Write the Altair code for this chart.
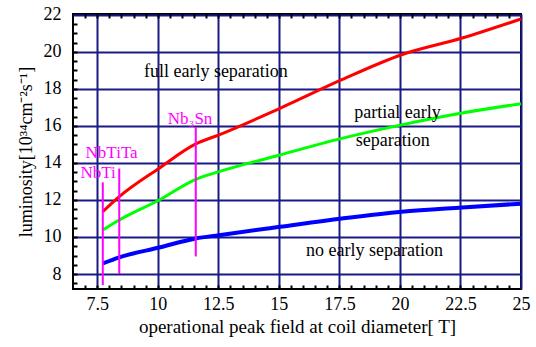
import altair as alt
import pandas as pd

# ---- data ----
field = [7.73, 8.41, 10.06, 11.57, 12.53, 15.04, 17.6, 20.07, 22.57, 25.0]
full_sep = [11.37, 12.18, 13.72, 15.03, 15.52, 16.95, 18.5, 19.85, 20.75, 21.78]
partial_sep = [10.38, 10.92, 12.0, 13.12, 13.53, 14.43, 15.33, 16.06, 16.7, 17.2]
no_sep = [8.57, 8.9, 9.43, 9.92, 10.1, 10.55, 11.0, 11.37, 11.6, 11.8]

material = ["NbTi", "NbTiTa", "Nb₃Sn"]
material_field = [7.73, 8.41, 11.57]
material_low = [7.4, 8.0, 8.95]
material_high = [12.95, 13.7, 15.95]
material_label_x = [6.81, 7.02, 10.41]
material_label_y = [13.48, 14.55, 16.4]

region_text = ["full early separation", "partial early", "separation", "no early separation"]
region_x = [12.4, 19.9, 19.7, 18.95]
region_y = [18.9, 16.7, 15.2, 9.25]

x_ticks = [7.5, 10, 12.5, 15, 17.5, 20, 22.5, 25]
y_ticks = [8, 10, 12, 14, 16, 18, 20, 22]
x_minor = [7.0, 7.5, 8.0, 8.5, 9.0, 9.5, 10.0, 10.5, 11.0, 11.5, 12.0, 12.5, 13.0, 13.5,
           14.0, 14.5, 15.0, 15.5, 16.0, 16.5, 17.0, 17.5, 18.0, 18.5, 19.0, 19.5, 20.0,
           20.5, 21.0, 21.5, 22.0, 22.5, 23.0, 23.5, 24.0, 24.5]
y_minor = [7.5, 8.0, 8.5, 9.0, 9.5, 10.0, 10.5, 11.0, 11.5, 12.0, 12.5, 13.0, 13.5, 14.0,
           14.5, 15.0, 15.5, 16.0, 16.5, 17.0, 17.5, 18.0, 18.5, 19.0, 19.5, 20.0, 20.5,
           21.0, 21.5]

series_names = ["full", "partial", "none"]
series_colors = ["#ff0000", "#00ff00", "#0000ff"]

rows = []
for name, vals in zip(series_names, [full_sep, partial_sep, no_sep]):
    for f, v in zip(field, vals):
        rows.append({"field": f, "lum": v, "series": name})
lines_df = pd.DataFrame(rows)
mat_df = pd.DataFrame({"name": material, "x": material_field, "lo": material_low,
                       "hi": material_high, "lx": material_label_x, "ly": material_label_y})
reg_df = pd.DataFrame({"t": region_text, "x": region_x, "y": region_y})

FONT = "Liberation Serif"
NAVY = "#1a1a85"
xs = alt.Scale(domain=[6.5, 25], nice=False, zero=False)
ys = alt.Scale(domain=[7.19, 22.05], nice=False, zero=False)

main_x_axis = alt.Axis(values=x_ticks, format=".1~f", grid=True, gridColor=NAVY, gridWidth=2,
                       gridOpacity=1, ticks=False, domain=False, labelFont=FONT, labelFontSize=18,
                       labelColor="black", labelPadding=6,
                       title="operational peak field at coil diameter[ T]",
                       titleFont=FONT, titleFontSize=19, titleFontWeight="normal",
                       titleColor="black", titlePadding=4, labelFlush=False)
main_y_axis = alt.Axis(values=y_ticks, grid=True, gridColor=NAVY, gridWidth=2, gridOpacity=1,
                       ticks=False, domain=False, labelFont=FONT, labelFontSize=18,
                       labelColor="black", labelPadding=12,
                       title="luminosity[10³⁴cm⁻²s⁻¹]",
                       titleFont=FONT, titleFontSize=18, titleFontWeight="normal",
                       titleColor="black", titlePadding=8, labelFlush=False)

def curve(name, width):
    return alt.Chart(lines_df).transform_filter(alt.datum.series == name).mark_line(
        strokeWidth=width, interpolate="monotone"
    ).encode(
        x=alt.X("field:Q", scale=xs, axis=None),
        y=alt.Y("lum:Q", scale=ys, axis=None),
        color=alt.Color("series:N", scale=alt.Scale(domain=series_names, range=series_colors),
                        legend=None),
    )

base = alt.Chart(lines_df).mark_line(strokeWidth=3, opacity=0).encode(
    x=alt.X("field:Q", scale=xs, axis=main_x_axis),
    y=alt.Y("lum:Q", scale=ys, axis=main_y_axis),
)

red = curve("full", 3)
green = curve("partial", 3)
blue = curve("none", 4)

rules = alt.Chart(mat_df).mark_rule(color="#ff00ff", strokeWidth=2).encode(
    x=alt.X("x:Q", scale=xs, axis=None),
    y=alt.Y("lo:Q", scale=ys, axis=None),
    y2="hi:Q",
)
mat_text = alt.Chart(mat_df).mark_text(color="#ff00ff", font=FONT, fontSize=17, align="left",
                                       baseline="middle").encode(
    x=alt.X("lx:Q", scale=xs, axis=None),
    y=alt.Y("ly:Q", scale=ys, axis=None),
    text="name:N",
)
reg_text = alt.Chart(reg_df).mark_text(color="black", font=FONT, fontSize=18, align="center",
                                       baseline="middle").encode(
    x=alt.X("x:Q", scale=xs, axis=None),
    y=alt.Y("y:Q", scale=ys, axis=None),
    text="t:N",
)

def minor_axis(orient, vals):
    return alt.Axis(orient=orient, values=vals, offset=-4, tickSize=4, tickColor="black",
                    tickWidth=2, tickOpacity=1, labels=False, domain=False, grid=False,
                    title=None, zindex=1)

minor_bl = alt.Chart(lines_df).mark_point(opacity=0).encode(
    x=alt.X("field:Q", scale=xs, axis=minor_axis("bottom", x_minor)),
    y=alt.Y("lum:Q", scale=ys, axis=minor_axis("left", y_minor)),
)
minor_t = alt.Chart(lines_df).mark_point(opacity=0).encode(
    x=alt.X("field:Q", scale=xs, axis=minor_axis("top", x_minor)),
    y=alt.Y("lum:Q", scale=ys, axis=None),
)

chart = alt.layer(base, minor_bl, minor_t, red, green, blue, rules, mat_text, reg_text).resolve_axis(
    x="independent", y="independent"
).properties(
    width=448, height=275,
    autosize=alt.AutoSizeParams(type="none"),
    padding={"left": 73, "top": 14, "right": 15, "bottom": 58},
    background="white",
).configure_view(stroke="black", strokeWidth=2)

chart.save("out.html", embed_options={"renderer": "svg", "actions": False})
